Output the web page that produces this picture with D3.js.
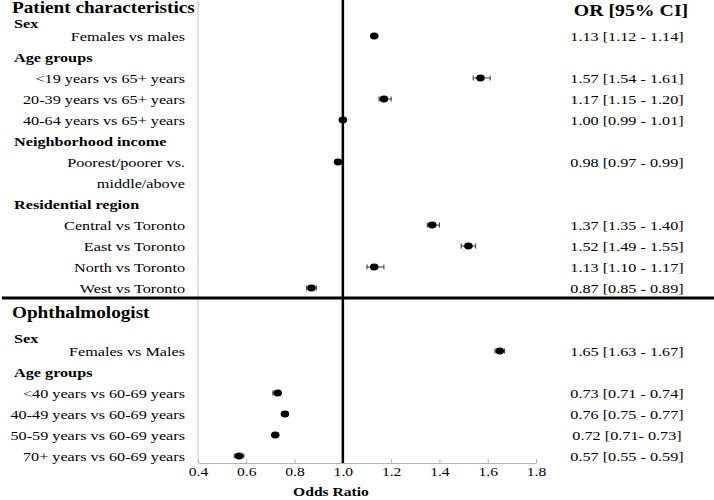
<!DOCTYPE html>
<html><head><meta charset="utf-8">
<script src="https://cdn.jsdelivr.net/npm/d3@7"></script>
<style>
body{margin:0;background:#fff}
svg{display:block}
text{font-family:"Liberation Serif","Times New Roman",serif;fill:#000}
</style>
</head><body>
<svg id="c" width="714" height="500"></svg>
<script>
// ---- data ----
const rowLabels = ["Patient characteristics","Sex","Females vs males","Age groups",
  "<19 years vs 65+ years","20-39 years vs 65+ years","40-64 years vs 65+ years",
  "Neighborhood income","Poorest/poorer vs.","middle/above","Residential region",
  "Central vs Toronto","East vs Toronto","North vs Toronto","West vs Toronto",
  "Ophthalmologist","Sex","Females vs Males","Age groups",
  "<40 years vs 60-69 years","40-49 years vs 60-69 years","50-59 years vs 60-69 years","70+ years vs 60-69 years"];
const rowKinds = ["title","sex","item","group","item","item","item","group","item","cont","group",
  "item","item","item","item","title","sex","item","group","item","item","item","item"];
const orValues = [null,null,1.13,null,1.57,1.17,1.00,null,0.98,null,null,1.37,1.52,1.13,0.87,null,null,1.65,null,0.73,0.76,0.72,0.57];
const ciLower  = [null,null,1.12,null,1.54,1.15,0.99,null,0.97,null,null,1.35,1.49,1.10,0.85,null,null,1.63,null,0.71,0.75,0.71,0.55];
const ciUpper  = [null,null,1.14,null,1.61,1.20,1.01,null,0.99,null,null,1.40,1.55,1.17,0.89,null,null,1.67,null,0.74,0.77,0.73,0.59];
const ciText   = [null,null,"1.13 [1.12 - 1.14]",null,"1.57 [1.54 - 1.61]","1.17 [1.15 - 1.20]","1.00 [0.99 - 1.01]",null,
  "0.98 [0.97 - 0.99]",null,null,"1.37 [1.35 - 1.40]","1.52 [1.49 - 1.55]","1.13 [1.10 - 1.17]","0.87 [0.85 - 0.89]",
  null,null,"1.65 [1.63 - 1.67]",null,"0.73 [0.71 - 0.74]","0.76 [0.75 - 0.77]","0.72 [0.71- 0.73]","0.57 [0.55 - 0.59]"];
const xTicks = [0.4,0.6,0.8,1.0,1.2,1.4,1.6,1.8];
const xTitle = "Odds Ratio";
const colTitle = "OR [95% CI]";

// ---- layout ----
const SX = 1.2; // horizontal stretch of the text in the original
const svg = d3.select("#c");
const x = d3.scaleLinear().domain([0.4,1.8]).range([198,536]);
const axisY = 463;

// row centres
const rowY = [];
rowKinds.forEach((k,i)=>{
  if(i===0){rowY.push(8);return;}
  const prev = rowKinds[i-1];
  let gap = 21;
  if(k==="title") gap = 25;
  else if(k==="sex") gap = (i===1) ? 15 : 25;
  else if(prev==="sex") gap = 13;
  rowY.push(rowY[i-1]+gap);
});

// gray left border
svg.append("line").attr("x1",x(0.4)).attr("x2",x(0.4)).attr("y1",0).attr("y2",axisY)
  .attr("stroke","#c8c8c8").attr("stroke-width",1);

// axis
const ax = svg.append("g").attr("transform",`translate(0,${axisY})`)
  .call(d3.axisBottom(x).tickValues(xTicks).tickFormat(d3.format(".1f")).tickSizeInner(-4).tickSizeOuter(0).tickPadding(4));
ax.select(".domain").attr("stroke","#b4b4b4");
ax.selectAll(".tick line").attr("stroke","#b4b4b4");
ax.selectAll(".tick text").attr("font-size",13).attr("font-family","Liberation Serif").attr("fill","#000")
  .attr("transform",`scale(${SX},1)`);

// reference line at 1
svg.append("line").attr("x1",x(1)).attr("x2",x(1)).attr("y1",0).attr("y2",axisY)
  .attr("stroke","#000").attr("stroke-width",2.5);

// separator
const sepIdx = rowKinds.lastIndexOf("title");
svg.append("line").attr("x1",2).attr("x2",714).attr("y1",rowY[sepIdx]-15).attr("y2",rowY[sepIdx]-15)
  .attr("stroke","#000").attr("stroke-width",3);

// labels
function stretchedText(xp, yp, txt, size, weight, anchor){
  svg.append("text").attr("transform",`translate(${xp},${yp}) scale(${SX},1)`)
    .attr("text-anchor",anchor).attr("font-size",size).attr("font-weight",weight).text(txt);
}
rowLabels.forEach((lab,i)=>{
  const k = rowKinds[i];
  if(k==="title") stretchedText(12, rowY[i]+5, lab, 16, "bold", "start");
  else if(k==="sex"||k==="group") stretchedText(14, rowY[i]+4.5, lab, 13.5, "bold", "start");
  else stretchedText(185, rowY[i]+4.5, lab, 13.5, "normal", "end");
});

// column header and CI text
stretchedText(631, 16, colTitle, 16.5, "bold", "middle");
ciText.forEach((t,i)=>{ if(t) stretchedText(627, rowY[i]+4.5, t, 13.5, "normal", "middle"); });

// x title
stretchedText(331, 496, xTitle, 13, "bold", "middle");

// CI whiskers and points
const idx = d3.range(orValues.length).filter(i=>orValues[i]!=null);
const g = svg.append("g");
idx.forEach(i=>{
  const y = rowY[i];
  g.append("line").attr("x1",x(ciLower[i])).attr("x2",x(ciUpper[i])).attr("y1",y).attr("y2",y)
    .attr("stroke","#333").attr("stroke-width",1);
  [ciLower[i],ciUpper[i]].forEach(v=>{
    g.append("line").attr("x1",x(v)).attr("x2",x(v)).attr("y1",y-2.5).attr("y2",y+2.5)
      .attr("stroke","#333").attr("stroke-width",1);
  });
});
g.selectAll("ellipse").data(idx).join("ellipse")
  .attr("cx",i=>x(orValues[i])).attr("cy",i=>rowY[i]).attr("rx",4.3).attr("ry",3.4).attr("fill","#000");
</script>
</body></html>
